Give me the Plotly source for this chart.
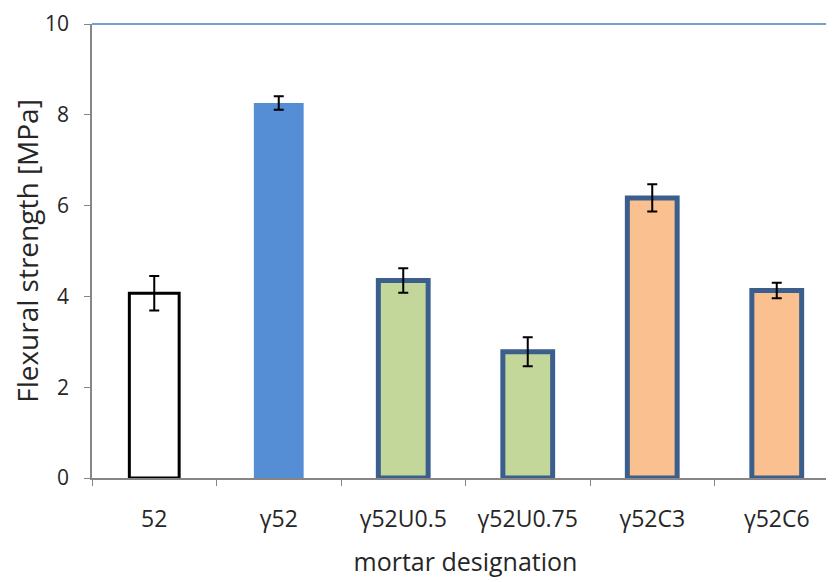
import plotly.graph_objects as go

# mortar mixes and flexural strength
mortars = ["52", "γ52", "γ52U0.5", "γ52U0.75", "γ52C3", "γ52C6"]
strength = [4.07, 8.26, 4.35, 2.78, 6.17, 4.13]
error = [0.38, 0.15, 0.27, 0.32, 0.30, 0.17]

fill_colors = ["white", "#558ed5", "#c4d79b", "#c4d79b", "#fac090", "#fac090"]
edge_colors = ["black", "#558ed5", "#3b5e8c", "#3b5e8c", "#3b5e8c", "#3b5e8c"]
edge_widths = [3, 0, 5, 5, 5, 5]

fig = go.Figure(go.Bar(
    x=mortars,
    y=strength,
    width=0.4,
    marker=dict(color=fill_colors, line=dict(color=edge_colors, width=edge_widths)),
    error_y=dict(type="data", array=error, color="black", thickness=2, width=5),
))

# blue line along the top of the plot area
fig.add_shape(type="line", xref="paper", yref="paper", x0=0, x1=1, y0=1, y1=1,
              line=dict(color="#4a7ebb", width=1.5), layer="above")

fig.update_layout(
    width=834, height=582,
    margin=dict(l=84, r=3, t=16, b=112),
    plot_bgcolor="white",
    paper_bgcolor="white",
    showlegend=False,
    font=dict(family="Open Sans", size=21, color="#262626"),
)

fig.update_xaxes(
    title=dict(text="mortar designation", font=dict(size=25), standoff=20),
    tickfont=dict(size=23),
    showline=True, linecolor="#868686", linewidth=1.5,
    ticks="outside", tickson="boundaries", ticklen=6, tickcolor="#868686",
    ticklabelstandoff=20,
    range=[-0.5, 5.5], automargin=False,
)
fig.update_yaxes(
    title=dict(text="Flexural strength [MPa]", font=dict(size=28), standoff=2),
    range=[0, 10], dtick=2,
    showline=True, linecolor="#868686", linewidth=1.5,
    ticks="outside", ticklen=6, tickcolor="#868686",
    ticklabelstandoff=11, ticklabeloverflow="allow",
    showgrid=False, zeroline=False, automargin=False,
)

fig.write_html("out.html")
